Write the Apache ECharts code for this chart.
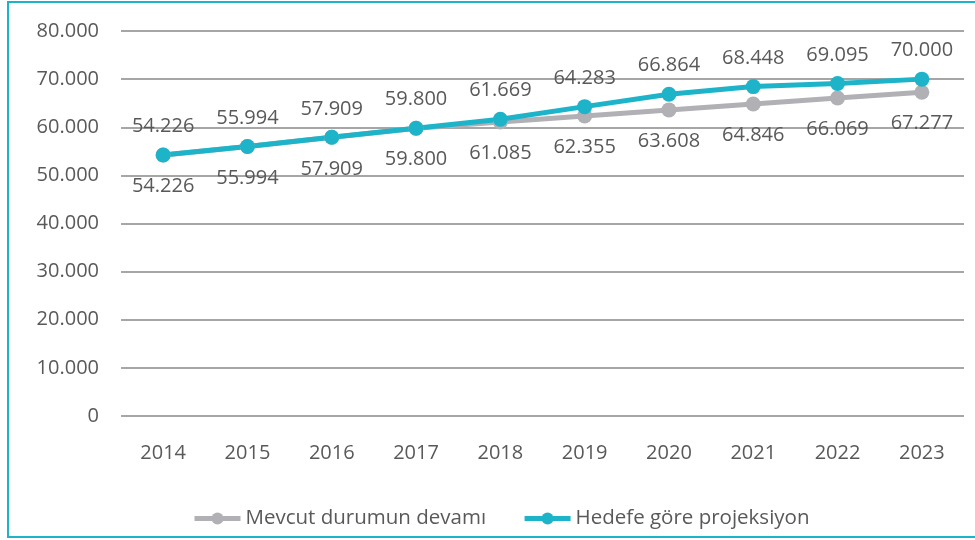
<!DOCTYPE html>
<html><head><meta charset="utf-8">
<script src="https://cdn.jsdelivr.net/npm/echarts@6/dist/echarts.min.js"></script>
<style>html,body{margin:0;padding:0;background:#fff}#c{width:975px;height:540px}</style>
</head><body><div id="c"></div>
<script>
const categories = ['2014','2015','2016','2017','2018','2019','2020','2021','2022','2023'];
const mevcut = [54226,55994,57909,59800,61085,62355,63608,64846,66069,67277];
const hedef = [54226,55994,57909,59800,61669,64283,66864,68448,69095,70000];
const seriesNames = ['Mevcut durumun devamı','Hedefe göre projeksiyon'];

const fmt = v => v === 0 ? '0' : (v/1000).toFixed(3);
const FONT = '"Open Sans", "Noto Sans", sans-serif';
const FS = 20;
const chart = echarts.init(document.getElementById('c'));
chart.setOption({
  animation: false,
  textStyle: {fontFamily: FONT},
  graphic: [{
    type: 'rect', shape: {x: 8, y: 2, width: 980, height: 535},
    style: {fill: 'none', stroke: '#1fb3c9', lineWidth: 2}
  }],
  grid: {left: 121, right: 11, top: 31, bottom: 124},
  legend: {
    bottom: 6, left: 187, itemGap: 36, itemWidth: 46, itemHeight: 15,
    lineStyle: {width: 5},
    textStyle: {fontSize: 20.5, color: '#595959', fontFamily: FONT},
    data: seriesNames
  },
  xAxis: {
    type: 'category', data: categories, boundaryGap: true,
    axisLine: {show: false}, axisTick: {show: false},
    axisLabel: {fontSize: FS, color: '#595959', margin: 27, fontFamily: FONT}
  },
  yAxis: {
    type: 'value', min: 0, max: 80000, interval: 10000,
    axisLine: {show: false}, axisTick: {show: false},
    axisLabel: {fontSize: FS, color: '#595959', margin: 22, formatter: fmt, fontFamily: FONT},
    splitLine: {lineStyle: {color: '#a6a6a6', width: 2}}
  },
  series: [{
    name: seriesNames[0], type: 'line', data: mevcut,
    symbol: 'circle', symbolSize: 15,
    lineStyle: {color: '#b1b1b5', width: 5},
    itemStyle: {color: '#b1b1b5'},
    label: {show: true, position: 'bottom', distance: 14, fontSize: FS, color: '#595959', formatter: p => fmt(p.value), fontFamily: FONT}
  },{
    name: seriesNames[1], type: 'line', data: hedef,
    symbol: 'circle', symbolSize: 15,
    lineStyle: {color: '#1db4c9', width: 5},
    itemStyle: {color: '#1db4c9'},
    label: {show: true, position: 'top', distance: 11, fontSize: FS, color: '#595959', formatter: p => fmt(p.value), fontFamily: FONT}
  }]
});
</script></body></html>
